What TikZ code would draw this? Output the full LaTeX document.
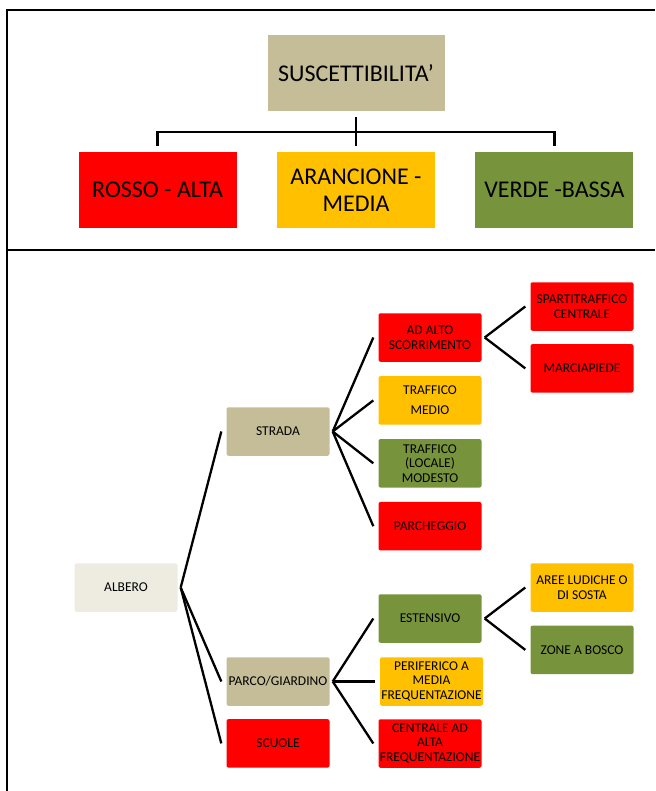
\documentclass[tikz,border=0pt]{standalone}
\usepackage{fontspec}
\setmainfont{Carlito}[Ligatures=ResetAll]
\usepackage{xcolor}
\usetikzlibrary{positioning}
\definecolor{sandfill}{HTML}{C4BD97}
\definecolor{redfill}{HTML}{FF0000}
\definecolor{amberfill}{HTML}{FFC000}
\definecolor{olivefill}{HTML}{77933C}
\definecolor{creamfill}{HTML}{EEECE1}
\tikzset{
  box/.style={rounded corners=2pt, inner sep=1pt, align=center, text=black},
  bigbox/.style={box, sharp corners, minimum width=158pt, minimum height=76pt, font=\fontsize{24}{27}\selectfont},
  leafbox/.style={box, minimum width=103pt, minimum height=48.5pt, font=\fontsize{13.5}{14.5}\selectfont},
  sandbox/.style={fill=sandfill},
  redbox/.style={fill=redfill},
  amberbox/.style={fill=amberfill},
  olivebox/.style={fill=olivefill},
  creambox/.style={fill=creamfill},
  link/.style={draw=black, line width=2.3pt},
  frameline/.style={draw=black, line width=2pt},
}

\begin{document}
\begin{tikzpicture}[x=1pt, y=-1pt, node distance=14pt]
  \useasboundingbox (0,0) rectangle (655,791);
  \draw[frameline] (7,791) -- (7,10) -- (655,10);
  \draw[frameline] (7,250) -- (655,250);

  \node[bigbox, sandbox, minimum width=177pt] (susc) at (356,73) {SUSCETTIBILITA'};
  \node[bigbox, amberbox] (arancio) at (356,190) {ARANCIONE -\\MEDIA};
  \node[bigbox, redbox, left=40pt of arancio] (rosso) {ROSSO - ALTA};
  \node[bigbox, olivebox, right=40pt of arancio] (verde) {VERDE -BASSA};
  \coordinate (bar) at (356,132);

  \draw[link] ([yshift=-6pt]susc.south) -- ([yshift=6pt]arancio.north);
  \draw[link] ([yshift=6pt]rosso.north) |- (bar) -| ([yshift=6pt]verde.north);

  \node[leafbox, creambox] (albero) at (126,587.5) {ALBERO};
  \node[leafbox, sandbox] (strada) at (278,431.5) {STRADA};
  \node[leafbox, sandbox] (parco) at (278,681.5) {PARCO/GIARDINO};
  \node[leafbox, redbox, below=13pt of parco] (scuole) {SCUOLE};

  \node[leafbox, redbox] (adalto) at (430,337.5) {AD ALTO\\SCORRIMENTO};
  \node[leafbox, amberbox, below=of adalto] (medio) {TRAFFICO\\[5pt]MEDIO};
  \node[leafbox, olivebox, below=of medio] (modesto) {TRAFFICO\\(LOCALE)\\MODESTO};
  \node[leafbox, redbox, below=of modesto] (parcheggio) {PARCHEGGIO};

  \node[leafbox, redbox] (sparti) at (582,306.5) {SPARTITRAFFICO\\CENTRALE};
  \node[leafbox, redbox, below=13pt of sparti] (marcia) {MARCIAPIEDE};

  \node[leafbox, olivebox] (estensivo) at (430,618.5) {ESTENSIVO};
  \node[leafbox, amberbox] (periferico) at (431.5,681.5) {PERIFERICO A\\MEDIA\\FREQUENTAZIONE};
  \node[leafbox, redbox] (centrale) at (430,743.5) {CENTRALE AD\\ALTA\\FREQUENTAZIONE};

  \node[leafbox, amberbox] (aree) at (582,587.5) {AREE LUDICHE O\\DI SOSTA};
  \node[leafbox, olivebox, below=13.5pt of aree] (zone) {ZONE A BOSCO};

  \draw[link] ([xshift=3pt]albero.east) -- ([xshift=-5pt]strada.west);
  \draw[link] ([xshift=3pt]albero.east) -- ([xshift=-5pt]parco.west);
  \draw[link] ([xshift=3pt]albero.east) -- ([xshift=-5pt]scuole.west);

  \draw[link] ([xshift=3pt]strada.east) -- ([xshift=-5pt]adalto.west);
  \draw[link] ([xshift=3pt]strada.east) -- ([xshift=-5pt]medio.west);
  \draw[link] ([xshift=3pt]strada.east) -- ([xshift=-5pt]modesto.west);
  \draw[link] ([xshift=3pt]strada.east) -- ([xshift=-5pt]parcheggio.west);

  \draw[link] ([xshift=3pt]adalto.east) -- ([xshift=-5pt]sparti.west);
  \draw[link] ([xshift=3pt]adalto.east) -- ([xshift=-5pt]marcia.west);

  \draw[link] ([xshift=3pt]parco.east) -- ([xshift=-5pt]estensivo.west);
  \draw[link] ([xshift=3pt]parco.east) -- ([xshift=-5pt]periferico.west);
  \draw[link] ([xshift=3pt]parco.east) -- ([xshift=-5pt]centrale.west);

  \draw[link] ([xshift=3pt]estensivo.east) -- ([xshift=-5pt]aree.west);
  \draw[link] ([xshift=3pt]estensivo.east) -- ([xshift=-5pt]zone.west);
\end{tikzpicture}
\end{document}
